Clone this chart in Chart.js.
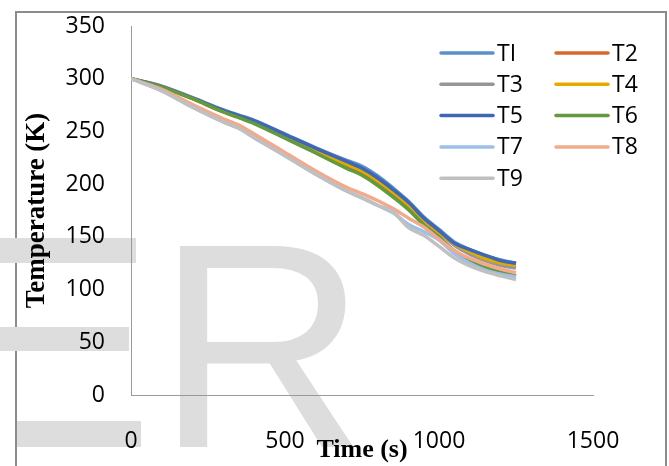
<!DOCTYPE html>
<html>
<head>
<meta charset="utf-8">
<script src="https://cdn.jsdelivr.net/npm/chart.js@4.4.0/dist/chart.umd.min.js"></script>
<style>
    html, body { margin: 0; padding: 0; background: #fff; }
    #wrap { position: relative; width: 669px; height: 466px; overflow: hidden; }
    #moldura { position: absolute; left: 15px; top: 11px; width: 652px; height: 480px; border: 2px solid #8c8c8c; box-sizing: border-box; }
    #grafico { position: absolute; left: 0; top: 0; }
</style>
</head>
<body>
<div id="wrap">
    <div id="moldura"></div>
    <canvas id="grafico" width="669" height="466"></canvas>
</div>
<script>
// tempos (s) e temperaturas (K)
const tempos = [0, 100, 200, 300, 350, 400, 500, 600, 700, 750, 800, 850, 900, 950, 1000, 1050, 1100, 1150, 1200, 1250];

const T1 = [300, 293, 282, 270.5, 265.5, 260.5, 247.5, 234.5, 222.5, 217, 208, 196.5, 184, 169, 157, 145, 138, 132.5, 128, 125];
const T2 = [300, 292, 281, 268.5, 263.5, 258, 244, 230, 216, 209.5, 200, 189, 177, 162, 150, 136, 127, 121, 116.5, 113];
const T3 = [300, 292.5, 281.5, 269.5, 264.5, 259.5, 246, 233, 220, 213.5, 204.5, 193.5, 181.5, 166.5, 154, 142, 133.5, 127.5, 123, 120.5];
const T4 = [300, 292.5, 281.5, 269.5, 264.5, 259, 245.5, 232, 219, 212.5, 203.5, 192.5, 180.5, 166, 154.5, 143.5, 136, 129.5, 125.5, 123];
const T5 = [300, 292.5, 281.5, 270, 265, 260, 247, 234, 221.5, 215, 206, 195, 183, 168, 156, 144, 138, 132.5, 127.5, 125];
const T6 = [300, 292, 281, 268.5, 263, 257.5, 243.5, 229.5, 215, 208.5, 199, 188, 176, 161.5, 149.5, 137, 128, 121, 116, 113];
const T7 = [300, 288.5, 273, 259, 253, 244, 227, 209.5, 193.5, 187, 180, 173, 162, 155, 147, 134, 125, 118.5, 114.5, 112];
const T8 = [300, 290, 275.5, 262, 256, 247.5, 230, 212.5, 197, 191, 184.5, 177, 168, 159.5, 148, 137, 129.5, 124, 119.5, 116];
const T9 = [300, 288.5, 273, 259, 253, 244, 227, 209.5, 193.5, 187, 180, 174, 159, 151.5, 141, 130, 122.5, 117, 113, 109.5];

const nomes = ['TI', 'T2', 'T3', 'T4', 'T5', 'T6', 'T7', 'T8', 'T9'];
const series = [T1, T2, T3, T4, T5, T6, T7, T8, T9];
const cores = ['#5b90c9', '#d6692c', '#969696', '#e3aa00', '#4067b2', '#63993f', '#9cc0e6', '#f2aa8c', '#c0c0c0'];

const xTicks = [0, 500, 1000, 1500];
const yTicks = [0, 50, 100, 150, 200, 250, 300, 350];

const fonteTicks = { family: "'Open Sans', sans-serif", size: 23 };

// marca d'agua cinza do fundo
const marcaDagua = {
    id: 'marcaDagua',
    beforeDraw(chart) {
        const ctx = chart.ctx;
        ctx.save();
        ctx.fillStyle = '#dddddd';
        ctx.fillRect(0, 238, 136, 25);
        ctx.fillRect(0, 327, 129, 24);
        ctx.fillRect(17, 421, 124, 26);
        ctx.font = "292px 'Liberation Sans'";
        ctx.textBaseline = 'alphabetic';
        ctx.fillText('R', 156, 447);
        ctx.restore();
    }
};

// legenda em duas colunas, dentro da area do grafico
const legenda = {
    id: 'legenda',
    afterDraw(chart) {
        const ctx = chart.ctx;
        ctx.save();
        ctx.font = "23px 'Open Sans', sans-serif";
        ctx.textBaseline = 'middle';
        ctx.lineCap = 'round';
        chart.data.datasets.forEach((ds, i) => {
            const col = i % 2;
            const lin = Math.floor(i / 2);
            const x0 = 441 + col * 115;
            const y0 = 53 + lin * 31.3;
            ctx.strokeStyle = ds.borderColor;
            ctx.lineWidth = 3.5;
            ctx.beginPath();
            ctx.moveTo(x0, y0);
            ctx.lineTo(x0 + 52, y0);
            ctx.stroke();
            ctx.fillStyle = '#000';
            ctx.fillText(ds.label, x0 + 56, y0 + 1);
        });
        ctx.restore();
    }
};

const ctx = document.getElementById('grafico').getContext('2d');
const grafico = new Chart(ctx, {
    type: 'line',
    data: {
        datasets: series.map((valores, i) => ({
            label: nomes[i],
            data: valores.map((v, j) => ({ x: tempos[j], y: v })),
            borderColor: cores[i],
            backgroundColor: cores[i],
            borderWidth: 3.5,
            fill: false,
            pointRadius: 0,
            cubicInterpolationMode: 'monotone',
            order: series.length - i
        }))
    },
    options: {
        responsive: false,
        animation: false,
        layout: {
            padding: { top: 26, right: 76, left: 0, bottom: 0 }
        },
        plugins: {
            legend: { display: false },
            tooltip: { enabled: false }
        },
        scales: {
            x: {
                type: 'linear',
                min: 0,
                max: 1500,
                afterBuildTicks: s => { s.ticks = xTicks.map(v => ({ value: v })) },
                afterFit: s => { s.height = 71 },
                grid: { display: false, drawTicks: false },
                border: { color: '#9a9a9a', width: 1 },
                ticks: { padding: 33, color: '#000', font: fonteTicks, maxRotation: 0, callback: v => String(v) },
                title: {
                    display: true,
                    text: 'Time (s)',
                    color: '#000',
                    font: { family: "'Liberation Serif', serif", weight: 'bold', size: 26 },
                    padding: { top: 0, bottom: 0 }
                }
            },
            y: {
                min: 0,
                max: 350,
                afterBuildTicks: s => { s.ticks = yTicks.map(v => ({ value: v })) },
                afterFit: s => { s.width = 131; s.paddingTop = 0; s.paddingBottom = 0 },
                grid: { display: false, drawTicks: false },
                border: { color: '#9a9a9a', width: 1 },
                ticks: { padding: 26, color: '#000', font: fonteTicks, callback: v => String(v) },
                title: {
                    display: true,
                    text: 'Temperature (K)',
                    color: '#000',
                    font: { family: "'Liberation Serif', serif", weight: 'bold', size: 27 },
                    padding: { top: 21, bottom: 0 }
                }
            }
        }
    },
    plugins: [marcaDagua, legenda]
});
</script>
</body>
</html>
